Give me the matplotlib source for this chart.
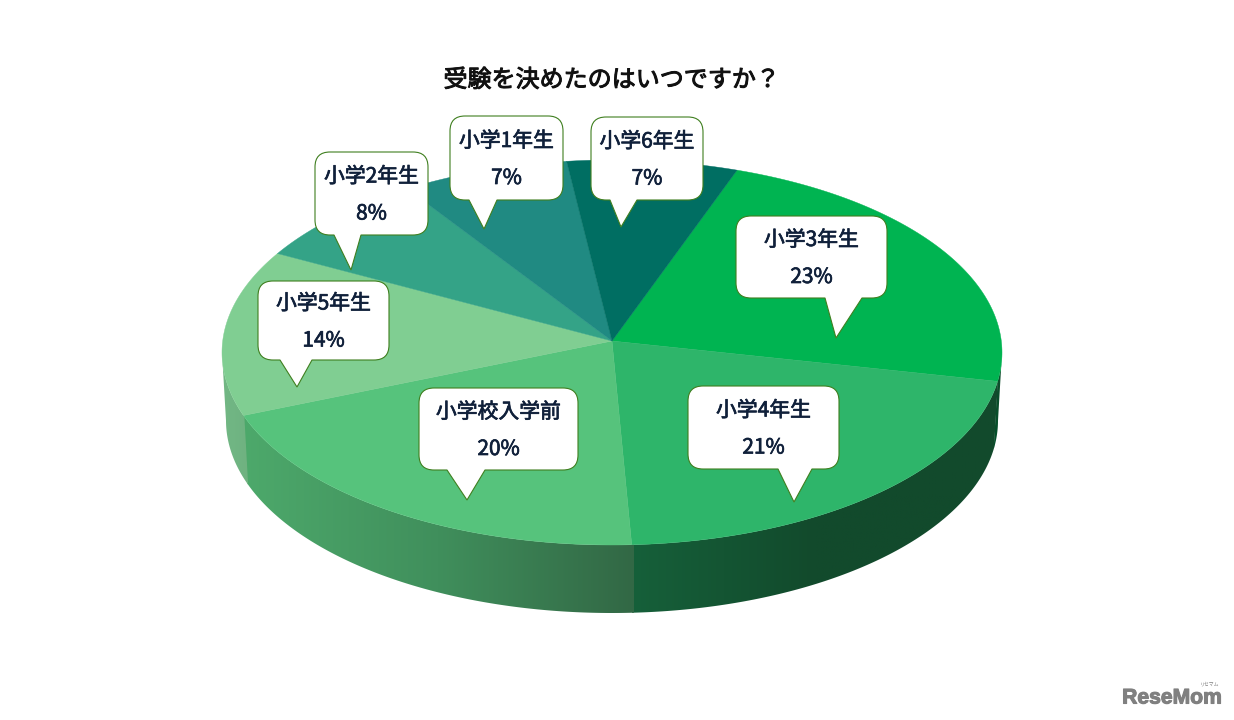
import numpy as np
import matplotlib
matplotlib.use('Agg')
import matplotlib.pyplot as plt
import matplotlib.patheffects as pe
from matplotlib.colors import LinearSegmentedColormap
from matplotlib.patches import PathPatch, Polygon
from matplotlib.path import Path

plt.rcParams['font.family'] = ['Noto Sans CJK JP', 'DejaVu Sans']

# data, clockwise from the 小学3年生 slice
labels = ['小学3年生', '小学4年生', '小学校入学前', '小学5年生', '小学2年生', '小学1年生', '小学6年生']
percents = [23, 21, 20, 14, 8, 7, 7]
# slice sizes as drawn (they differ a bit from the rounded labels)
drawn_shares = [22.2, 21.8, 20.5, 13.9, 7.6, 6.95, 7.05]
colors = ['#00B451', '#2EB56A', '#56C37C', '#80CE92', '#34A387', '#208A82', '#006E62']
side_left = ['#00512B', '#16603A', '#4DA96B', '#72B784', '#000000', '#000000', '#000000']
side_mid = ['#0C4E2B', '#124A2C', '#408F5C', '#70B583', '#000000', '#000000', '#000000']
side_right = ['#124A2C', '#124A2C', '#326845', '#6FB180', '#000000', '#000000', '#000000']

title = '受験を決めたのはいつですか？'
text_color = '#10203A'

# pie geometry in pixels
apex_x, apex_y = 612, 341
cx, cy = 612, 352.5
rx, ry = 390, 192.5
rx_low = 386
depth = 68
start_angle = -71.3

# callout layout: left, right, top, bottom, tail left, tail right, tip x, tip y
boxes = {
    '小学3年生': (736, 887, 216, 298, 825, 862, 836, 338),
    '小学4年生': (688, 839, 386, 469, 778, 812, 794, 502),
    '小学校入学前': (419, 578, 388, 470, 447, 485, 467, 500),
    '小学5年生': (258, 389, 281, 360, 280, 312, 297, 387),
    '小学2年生': (315, 428, 152, 235, 334, 361, 351, 270),
    '小学1年生': (450, 563, 116, 200, 469, 497, 484, 229),
    '小学6年生': (591, 703, 117, 200, 610, 637, 621, 227),
}


def rim(t, dy=0, a=rx):
    t = np.radians(t)
    return np.column_stack([cx + a * np.cos(t), cy + dy + ry * np.sin(t)])


def callout(left, right, top, bottom, tail_l, tail_r, tip_x, tip_y, r=15):
    verts = [(left + r, top), (right - r, top), (right, top), (right, top + r),
             (right, bottom - r), (right, bottom), (right - r, bottom),
             (tail_r, bottom), (tip_x, tip_y), (tail_l, bottom),
             (left + r, bottom), (left, bottom), (left, bottom - r),
             (left, top + r), (left, top), (left + r, top), (left + r, top)]
    codes = [Path.MOVETO, Path.LINETO, Path.CURVE3, Path.CURVE3,
             Path.LINETO, Path.CURVE3, Path.CURVE3,
             Path.LINETO, Path.LINETO, Path.LINETO,
             Path.LINETO, Path.CURVE3, Path.CURVE3,
             Path.LINETO, Path.CURVE3, Path.CURVE3, Path.CLOSEPOLY]
    return Path(verts, codes)


fig = plt.figure(figsize=(12.34, 7.2), dpi=100)
ax = fig.add_axes([0, 0, 1, 1])

edges = start_angle + np.cumsum([0] + drawn_shares) * 360 / sum(drawn_shares)

# side wall first, slices overlap a little so no seam shows
for i in range(len(labels)):
    t0, t1 = max(edges[i], 0), min(edges[i + 1], 180)
    if t0 >= t1:
        continue
    ts = np.linspace(t0 - 0.4, t1, 120)
    ts = ts[ts >= 0]
    top = rim(ts)
    bottom = rim(ts, depth, rx_low)
    pts = np.vstack([top, bottom[::-1]])
    # gradient runs left to right in the picture
    cmap = LinearSegmentedColormap.from_list('side', [side_left[i], side_mid[i], side_right[i]])
    grad = np.linspace(0, 1, 256).reshape(1, -1)
    xmin, xmax = pts[:, 0].min(), pts[:, 0].max()
    im = ax.imshow(grad, cmap=cmap, aspect='auto', zorder=1,
                   extent=[xmin, xmax, pts[:, 1].max(), pts[:, 1].min()])
    clip = Polygon(pts, closed=True, transform=ax.transData, facecolor='none', edgecolor='none')
    ax.add_patch(clip)
    im.set_clip_path(clip)

# top face
for i in range(len(labels)):
    ts = np.linspace(edges[i], edges[i + 1], 120)
    pts = np.vstack([[apex_x, apex_y], rim(ts)])
    ax.add_patch(Polygon(pts, closed=True, facecolor=colors[i], edgecolor=colors[i], lw=0.3, zorder=2))

# callouts
medium = [pe.withStroke(linewidth=0.5, foreground=text_color)]
for name, pct in zip(labels, percents):
    b = boxes[name]
    ax.add_patch(PathPatch(callout(*b), facecolor='white', edgecolor='#3F7F1F', lw=0.8, zorder=3))
    mid_x = (b[0] + b[1]) / 2
    mid_y = (b[2] + b[3]) / 2
    ax.text(mid_x, mid_y - 17, name, ha='center', va='center', fontsize=15,
            color=text_color, zorder=4, path_effects=medium)
    ax.text(mid_x, mid_y + 20, f'{pct}%', ha='center', va='center', fontsize=15,
            color=text_color, zorder=4, path_effects=medium)

ax.text(611.5, 80, title, ha='center', va='center', fontsize=17.3, color='#111111',
        path_effects=[pe.withStroke(linewidth=0.7, foreground='#111111')])

# logo
ax.text(1172, 698, 'ReseMom', ha='center', va='center', fontsize=15.2, fontweight='bold',
        family=['Liberation Sans', 'DejaVu Sans'], color='#808080',
        path_effects=[pe.withStroke(linewidth=0.8, foreground='#808080')])
ax.text(1210, 684, 'リセマム', ha='center', va='center', fontsize=3.5, color='#808080')

ax.set_xlim(0, 1234)
ax.set_ylim(720, 0)
ax.axis('off')
fig.savefig('out.png', dpi=100, facecolor='white')
